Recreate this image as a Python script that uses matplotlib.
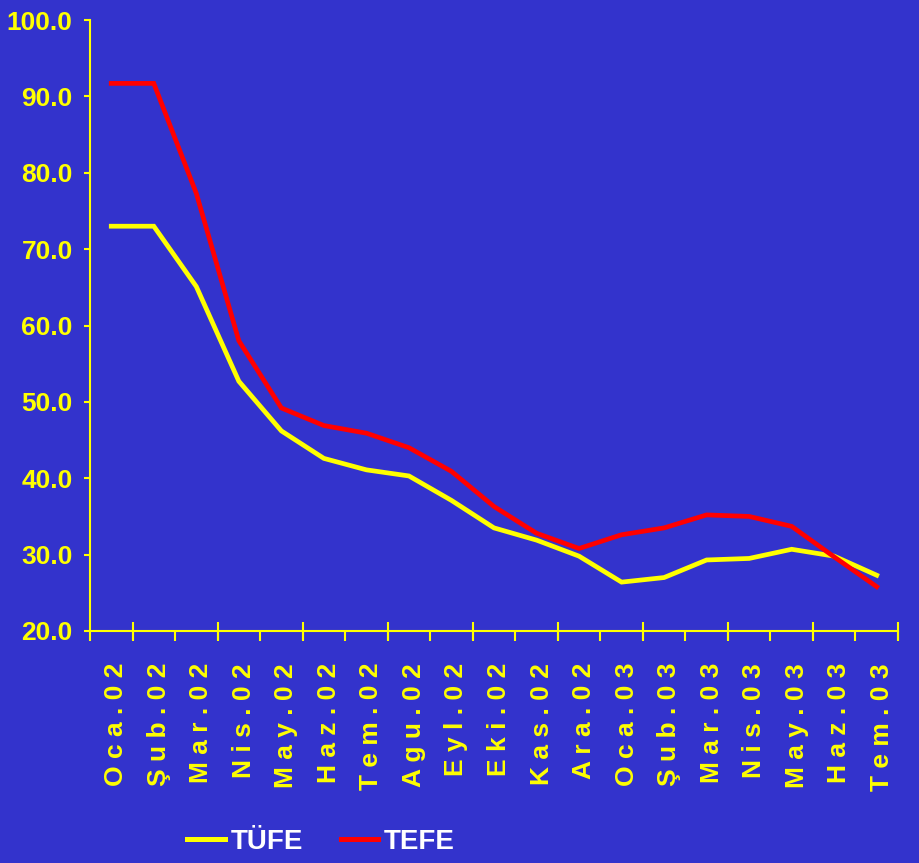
import numpy as np
import matplotlib.pyplot as plt
import matplotlib.transforms as mtransforms
from matplotlib.lines import Line2D

# aylar (Oca.02 - Tem.03)
months = ['Oca.02', 'Şub.02', 'Mar.02', 'Nis.02', 'May.02', 'Haz.02', 'Tem.02',
          'Agu.02', 'Eyl.02', 'Eki.02', 'Kas.02', 'Ara.02', 'Oca.03', 'Şub.03',
          'Mar.03', 'Nis.03', 'May.03', 'Haz.03', 'Tem.03']
tufe = [73.0, 73.0, 65.1, 52.7, 46.2, 42.6, 41.1, 40.3, 37.1, 33.5, 31.9,
        29.8, 26.4, 27.0, 29.3, 29.5, 30.7, 29.8, 27.3]
tefe = [91.7, 91.7, 77.3, 58.0, 49.2, 46.9, 45.9, 44.0, 40.9, 36.3, 32.8,
        30.8, 32.6, 33.5, 35.2, 35.0, 33.7, 29.7, 25.8]
legend_names = ['TÜFE', 'TEFE']
y_ticks = [20, 30, 40, 50, 60, 70, 80, 90, 100]

bg = '#3333CC'
yellow = '#FFFF00'
red = '#FF0000'
font = ['Liberation Sans', 'DejaVu Sans']

fig = plt.figure(figsize=(9.19, 8.63), dpi=100, facecolor=bg)
ax = fig.add_axes([90 / 919, 232 / 863, 808 / 919, 611 / 863])
ax.set_facecolor(bg)

x = np.arange(len(months))
ax.plot(x, tufe, color=yellow, lw=3.4, solid_joinstyle='miter')
ax.plot(x, tefe, color=red, lw=3.4, solid_joinstyle='miter')

ax.set_xlim(-0.5, len(months) - 0.5)
ax.set_ylim(20, 100)

for s in ['top', 'right']:
    ax.spines[s].set_visible(False)
for s in ['left', 'bottom']:
    ax.spines[s].set_color(yellow)
    ax.spines[s].set_linewidth(1.5)

# y ekseni
ax.set_yticks(y_ticks)
ax.set_yticklabels([f'{v:.1f}' for v in y_ticks], family=font,
                   fontweight='bold', fontsize=19, color=yellow)
ax.tick_params(axis='y', direction='out', length=4.5, width=1.5,
               color=yellow, pad=8)

# x ekseni: etiketler kategorilerin ortasinda
ax.set_xticks(x)
ax.set_xticklabels([' '.join(m) for m in months], rotation=90, va='top',
                   ha='center', family=font, fontweight='bold',
                   fontsize=19, color=yellow)
ax.tick_params(axis='x', which='major', length=0, pad=23)
shift = mtransforms.ScaledTranslation(0.05, 0, fig.dpi_scale_trans)
for lbl in ax.get_xticklabels():
    lbl.set_transform(lbl.get_transform() + shift)
ax.set_xticks(np.arange(-0.5, len(months)), minor=True)
ax.tick_params(axis='x', which='minor', direction='out', length=7.5,
               width=1.5, color=yellow)

# ikinci derece tikler (kesen)
sec = ax.secondary_xaxis('bottom')
sec.set_xticks(np.arange(0.5, len(months), 2))
sec.set_xticklabels([])
sec.tick_params(direction='inout', length=13, width=1.5, color=yellow)
sec.spines['bottom'].set_visible(False)

handles = [Line2D([], [], color=yellow, lw=3.6),
           Line2D([], [], color=red, lw=3.6)]
leg = fig.legend(handles, legend_names, loc='center',
                 bbox_to_anchor=(321 / 919, 21 / 863), ncol=2, frameon=False,
                 handlelength=1.35, handletextpad=0.22, columnspacing=1.35,
                 prop={'family': font, 'weight': 'bold', 'size': 20})
for t in leg.get_texts():
    t.set_color('white')

fig.savefig('out.png', dpi=100, facecolor=bg)
